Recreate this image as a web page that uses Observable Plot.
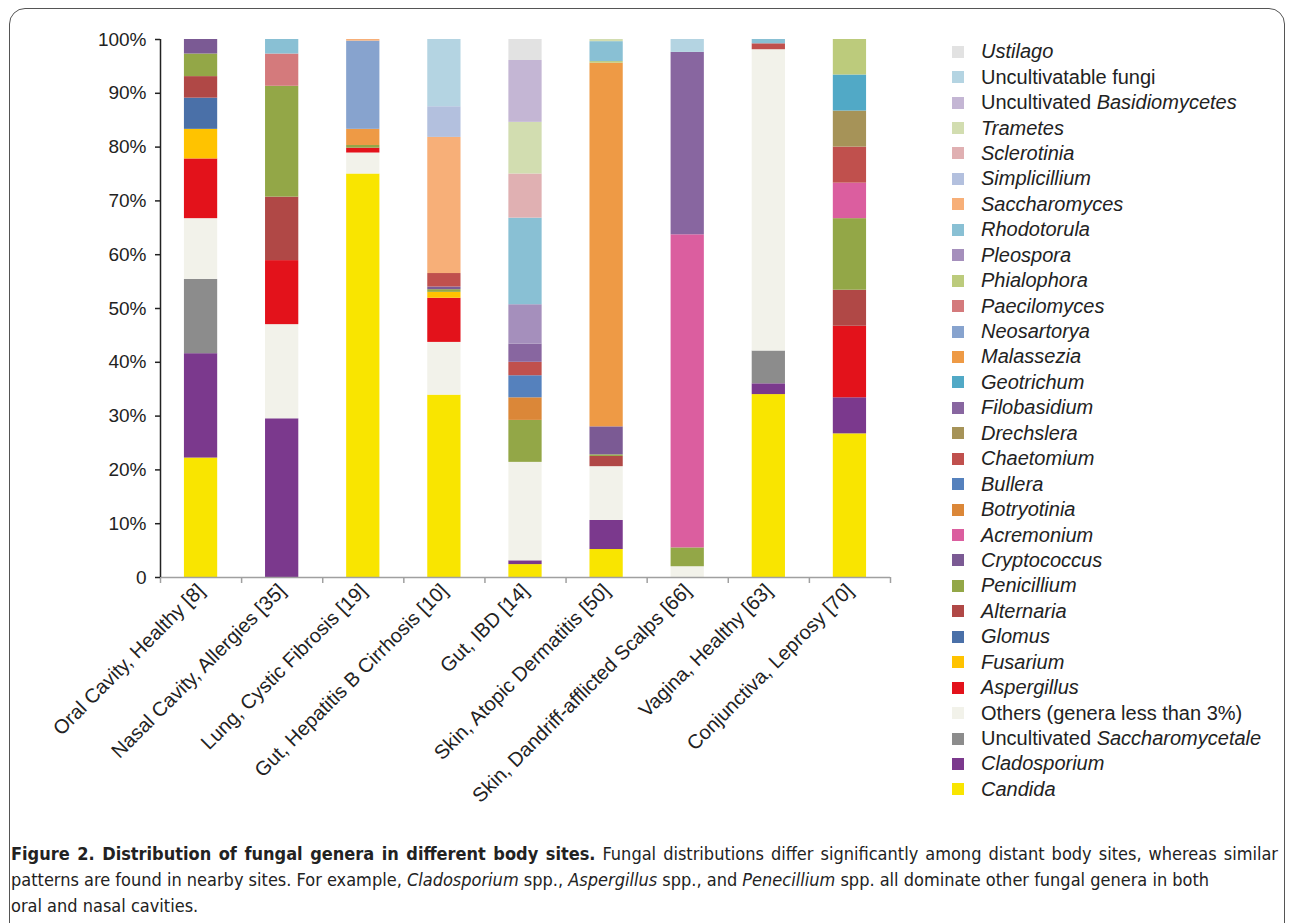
<!DOCTYPE html>
<html>
<head>
<meta charset="utf-8">
<script src="https://cdn.jsdelivr.net/npm/d3@7"></script>
<script src="https://cdn.jsdelivr.net/npm/@observablehq/plot@0.6"></script>
<style>
  body { margin: 0; background: #fff; font-family: "Liberation Sans", Arial, sans-serif; color: #222; }
  #frame { position: absolute; left: 9px; top: 8px; width: 1274px; height: 940px; border: 1px solid #555; border-radius: 16px; pointer-events: none; }
  #chart { position: absolute; left: 0; top: 0; }
  #legend { position: absolute; left: 952px; top: 39px; }
  .row { display: flex; align-items: center; height: 25.45px; font-size: 20px; color: #222; white-space: nowrap; font-family: "Liberation Sans", Arial, sans-serif; }
  .sw { width: 12px; height: 12px; margin-right: 17px; flex: none; }
  #caption { position: absolute; left: 11px; top: 841px; width: 1267px; font-family: "DejaVu Sans Condensed", "DejaVu Sans", sans-serif; font-stretch: condensed; font-size: 18px; line-height: 26px; color: #222; text-align: justify; }
</style>
</head>
<body>
<div id="chart"></div>
<div id="legend"></div>
<div id="caption"></div>
<div id="frame"></div>
<script>
// ---------- data ----------
const sites = [
  "Oral Cavity, Healthy [8]",
  "Nasal Cavity, Allergies [35]",
  "Lung, Cystic Fibrosis [19]",
  "Gut, Hepatitis B Cirrhosis [10]",
  "Gut, IBD [14]",
  "Skin, Atopic Dermatitis [50]",
  "Skin, Dandriff-afflicted Scalps [66]",
  "Vagina, Healthy [63]",
  "Conjunctiva, Leprosy [70]"
];

// legend order, top to bottom
const genera = [
  "Ustilago", "Uncultivatable fungi", "Uncultivated Basidiomycetes", "Trametes", "Sclerotinia",
  "Simplicillium", "Saccharomyces", "Rhodotorula", "Pleospora", "Phialophora",
  "Paecilomyces", "Neosartorya", "Malassezia", "Geotrichum", "Filobasidium",
  "Drechslera", "Chaetomium", "Bullera", "Botryotinia", "Acremonium",
  "Cryptococcus", "Penicillium", "Alternaria", "Glomus", "Fusarium",
  "Aspergillus", "Others (genera less than 3%)", "Uncultivated Saccharomycetale", "Cladosporium", "Candida"
];
const colors = [
  "#e2e2e2", "#b4d4e2", "#c4b6d4", "#d2ddb0", "#e0b0b2",
  "#b3c0de", "#f7af78", "#89c0d4", "#a58fbc", "#bccb7c",
  "#d47a7c", "#87a3ce", "#ee9a45", "#51a9c6", "#8866a0",
  "#a69358", "#c0504d", "#5581bd", "#db8738", "#db5e9f",
  "#7b5a94", "#93a747", "#b04846", "#4a70a8", "#ffc300",
  "#e3121b", "#f2f2ea", "#8c8c8c", "#7b398d", "#f9e500"
];

// percentage of each genus per site
const oralHealthy = [["Candida", 22.2], ["Cladosporium", 19.4], ["Uncultivated Saccharomycetale", 13.8], ["Others (genera less than 3%)", 11.3], ["Aspergillus", 11.1], ["Fusarium", 5.5], ["Glomus", 5.8], ["Alternaria", 4.0], ["Penicillium", 4.2], ["Cryptococcus", 2.7]];
const nasalAllergies = [["Cladosporium", 29.5], ["Others (genera less than 3%)", 17.5], ["Aspergillus", 11.9], ["Alternaria", 11.8], ["Penicillium", 20.6], ["Paecilomyces", 6.0], ["Rhodotorula", 2.7]];
const lungCF = [["Candida", 75.0], ["Others (genera less than 3%)", 3.9], ["Aspergillus", 0.9], ["Penicillium", 0.5], ["Malassezia", 3.0], ["Neosartorya", 16.4], ["Saccharomyces", 0.3]];
const gutHBC = [["Candida", 33.9], ["Others (genera less than 3%)", 9.8], ["Aspergillus", 8.2], ["Fusarium", 1.1], ["Penicillium", 0.5], ["Cryptococcus", 0.5], ["Chaetomium", 2.5], ["Saccharomyces", 25.3], ["Simplicillium", 5.7], ["Uncultivatable fungi", 12.5]];
const gutIBD = [["Candida", 2.4], ["Cladosporium", 0.7], ["Others (genera less than 3%)", 18.3], ["Penicillium", 7.8], ["Botryotinia", 4.2], ["Bullera", 4.1], ["Chaetomium", 2.5], ["Filobasidium", 3.4], ["Pleospora", 7.3], ["Rhodotorula", 16.1], ["Sclerotinia", 8.2], ["Trametes", 9.6], ["Uncultivated Basidiomycetes", 11.5], ["Ustilago", 3.9]];
const skinAD = [["Candida", 5.2], ["Cladosporium", 5.4], ["Others (genera less than 3%)", 10.0], ["Alternaria", 1.9], ["Penicillium", 0.3], ["Cryptococcus", 5.2], ["Malassezia", 67.6], ["Phialophora", 0.3], ["Rhodotorula", 3.7], ["Trametes", 0.4]];
const skinDandruff = [["Others (genera less than 3%)", 2.0], ["Penicillium", 3.5], ["Acremonium", 58.2], ["Filobasidium", 33.9], ["Uncultivatable fungi", 2.4]];
const vaginaHealthy = [["Candida", 34.0], ["Cladosporium", 2.0], ["Uncultivated Saccharomycetale", 6.1], ["Others (genera less than 3%)", 56.0], ["Chaetomium", 1.1], ["Rhodotorula", 0.8]];
const conjunctivaLeprosy = [["Candida", 26.7], ["Cladosporium", 6.7], ["Aspergillus", 13.3], ["Alternaria", 6.7], ["Penicillium", 13.3], ["Acremonium", 6.6], ["Chaetomium", 6.7], ["Drechslera", 6.7], ["Geotrichum", 6.7], ["Phialophora", 6.6]];

const siteValues = [oralHealthy, nasalAllergies, lungCF, gutHBC, gutIBD, skinAD, skinDandruff, vaginaHealthy, conjunctivaLeprosy];
const yTicks = [0, 10, 20, 30, 40, 50, 60, 70, 80, 90, 100];

// ---------- table ----------
const stackOrder = genera.slice().reverse(); // bottom to top
const rows = [];
siteValues.forEach((pairs, i) => {
  const sorted = pairs.slice().sort((a, b) => stackOrder.indexOf(a[0]) - stackOrder.indexOf(b[0]));
  let acc = 0;
  for (const [genus, v] of sorted) {
    rows.push({site: sites[i], idx: i, genus, y1: acc, y2: acc + v});
    acc += v;
  }
});

const pad = 0.295;
const chart = Plot.plot({
  width: 930,
  height: 815,
  marginLeft: 160,
  marginRight: 40,
  marginTop: 39,
  marginBottom: 238,
  style: {fontFamily: "'Liberation Sans', Arial, sans-serif", fontSize: "19px", color: "#222", background: "transparent"},
  x: {type: "linear", domain: [0, sites.length]},
  y: {domain: [0, 100]},
  color: {domain: genera, range: colors},
  marks: [
    Plot.rect(rows, {x1: d => d.idx + pad, x2: d => d.idx + 1 - pad, y1: "y1", y2: "y2", fill: "genus"}),
    Plot.ruleY([0], {stroke: "#a0a0a0", strokeWidth: 1.5}),
    Plot.axisX({ticks: d3.range(sites.length + 1), tickSize: 6, tickFormat: () => "", stroke: "#a0a0a0", strokeWidth: 1.5, label: null}),
    Plot.axisX({ticks: d3.range(sites.length).map(i => i + 0.5), tickSize: 0, tickPadding: 10, tickRotate: -45,
      tickFormat: v => sites[Math.floor(v)], fontSize: 20, label: null}),
    Plot.ruleX([0], {y1: 0, y2: 100, stroke: "#222", strokeWidth: 1.5}),
    Plot.axisY({ticks: yTicks, tickSize: 5, tickPadding: 9, tickFormat: d => d === 0 ? "0" : d + "%", fontSize: 19, stroke: "#222", strokeWidth: 1.5, label: null})
  ]
});
document.getElementById("chart").appendChild(chart);

// ---------- legend ----------
const legend = document.getElementById("legend");
genera.forEach((g, i) => {
  const row = document.createElement("div");
  row.className = "row";
  const sw = document.createElement("span");
  sw.className = "sw";
  sw.style.background = colors[i];
  row.appendChild(sw);
  const label = document.createElement("span");
  if (g.startsWith("Uncultivated ")) {
    label.innerHTML = "Uncultivated <i>" + g.slice(13) + "</i>";
  } else if (g.startsWith("Uncultivatable") || g.startsWith("Others")) {
    label.textContent = g;
  } else {
    label.innerHTML = "<i>" + g + "</i>";
  }
  row.appendChild(label);
  legend.appendChild(row);
});

// ---------- caption ----------
document.getElementById("caption").innerHTML =
  "<b>Figure 2. Distribution of fungal genera in different body sites.</b> Fungal distributions differ significantly among distant body sites, whereas similar " +
  "patterns are found in nearby sites. For example, <i>Cladosporium</i> spp., <i>Aspergillus</i> spp., and <i>Penecillium</i> spp. all dominate other fungal genera in both<br>" +
  "oral and nasal cavities.";
</script>
</body>
</html>
